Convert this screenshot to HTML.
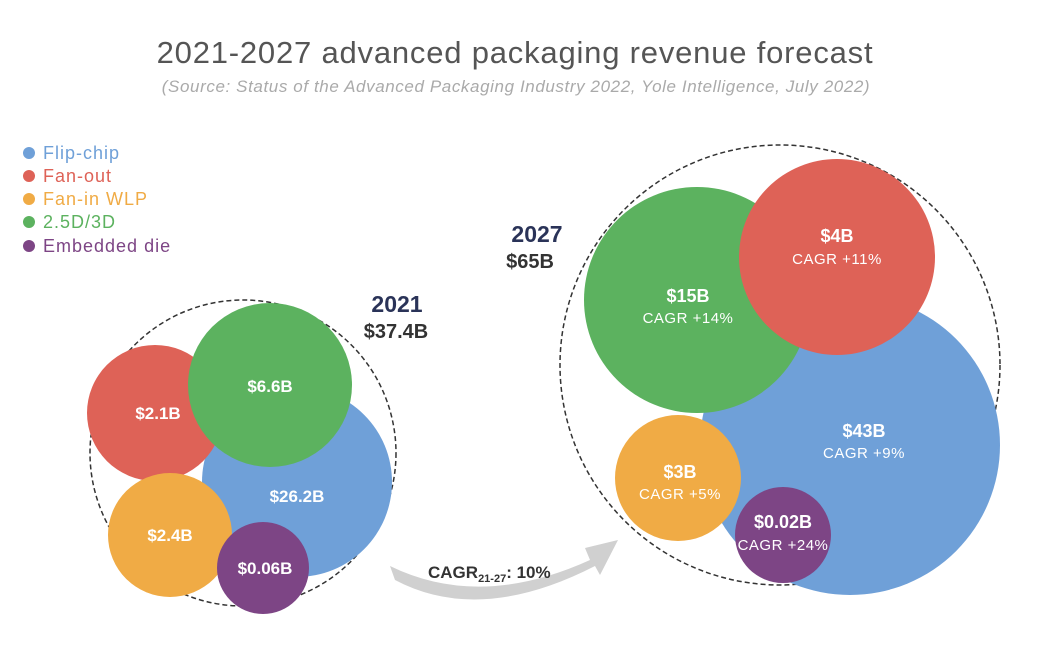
<!DOCTYPE html>
<html><head><meta charset="utf-8"><style>
html,body{margin:0;padding:0;background:#fff;}
svg{display:block;font-family:"Liberation Sans",sans-serif;}
</style></head><body>
<svg width="1045" height="652" viewBox="0 0 1045 652" xmlns="http://www.w3.org/2000/svg">
<rect width="1045" height="652" fill="#fff"/>
<text x="515" y="63" text-anchor="middle" font-size="31" letter-spacing="0.8" fill="#555">2021-2027 advanced packaging revenue forecast</text>
<text x="516" y="92" text-anchor="middle" font-size="17" letter-spacing="0.6" font-style="italic" fill="#aaa">(Source: Status of the Advanced Packaging Industry 2022, Yole Intelligence, July 2022)</text>
<g font-size="18" letter-spacing="1">
<circle cx="29" cy="153" r="6" fill="#6fa0d8"/><text x="43" y="159" fill="#6fa0d8">Flip-chip</text>
<circle cx="29" cy="176" r="6" fill="#de6257"/><text x="43" y="182" fill="#de6257">Fan-out</text>
<circle cx="29" cy="199" r="6" fill="#f0ab45"/><text x="43" y="205" fill="#f0ab45">Fan-in WLP</text>
<circle cx="29" cy="222" r="6" fill="#5cb25f"/><text x="43" y="228" fill="#5cb25f">2.5D/3D</text>
<circle cx="29" cy="246" r="6" fill="#7d4585"/><text x="43" y="252" fill="#7d4585">Embedded die</text>
</g>
<path d="M390 566 Q480 610 590 560 L585 548 L618 540 L600 575 L595 566 Q480 625 395 580 Z" fill="#d0d0d0"/>
<text x="428" y="578" font-size="17" font-weight="bold" fill="#333">CAGR<tspan font-size="11" dy="4">21-27</tspan><tspan dy="-4">: 10%</tspan></text>
<circle cx="243" cy="453" r="153" fill="none" stroke="#333" stroke-width="1.5" stroke-dasharray="5,3"/>
<circle cx="297" cy="482" r="95" fill="#6fa0d8"/>
<circle cx="155" cy="413" r="68" fill="#de6257"/>
<circle cx="270" cy="385" r="82" fill="#5cb25f"/>
<circle cx="170" cy="535" r="62" fill="#f0ab45"/>
<circle cx="263" cy="568" r="46" fill="#7d4585"/>
<g fill="#fff" font-size="17" font-weight="bold" text-anchor="middle">
<text x="158" y="419">$2.1B</text>
<text x="270" y="392">$6.6B</text>
<text x="297" y="502">$26.2B</text>
<text x="170" y="541">$2.4B</text>
<text x="265" y="574">$0.06B</text>
</g>
<text x="397" y="312" text-anchor="middle" font-size="23" font-weight="bold" fill="#2a3358">2021</text>
<text x="396" y="338" text-anchor="middle" font-size="20" font-weight="bold" fill="#333">$37.4B</text>
<circle cx="780" cy="365" r="220" fill="none" stroke="#333" stroke-width="1.5" stroke-dasharray="5,3"/>
<circle cx="850" cy="445" r="150" fill="#6fa0d8"/>
<circle cx="697" cy="300" r="113" fill="#5cb25f"/>
<circle cx="837" cy="257" r="98" fill="#de6257"/>
<circle cx="678" cy="478" r="63" fill="#f0ab45"/>
<circle cx="783" cy="535" r="48" fill="#7d4585"/>
<g fill="#fff" text-anchor="middle">
<text x="688" y="302" font-size="18" font-weight="bold">$15B</text><text x="688" y="323" font-size="15" letter-spacing="0.5">CAGR +14%</text>
<text x="837" y="242" font-size="18" font-weight="bold">$4B</text><text x="837" y="264" font-size="15" letter-spacing="0.5">CAGR +11%</text>
<text x="864" y="437" font-size="18" font-weight="bold">$43B</text><text x="864" y="458" font-size="15" letter-spacing="0.5">CAGR +9%</text>
<text x="680" y="478" font-size="18" font-weight="bold">$3B</text><text x="680" y="499" font-size="15" letter-spacing="0.5">CAGR +5%</text>
<text x="783" y="528" font-size="18" font-weight="bold">$0.02B</text><text x="783" y="550" font-size="15" letter-spacing="0.5">CAGR +24%</text>
</g>
<text x="537" y="242" text-anchor="middle" font-size="23" font-weight="bold" fill="#2a3358">2027</text>
<text x="530" y="268" text-anchor="middle" font-size="20" font-weight="bold" fill="#333">$65B</text>
</svg>
</body></html>
